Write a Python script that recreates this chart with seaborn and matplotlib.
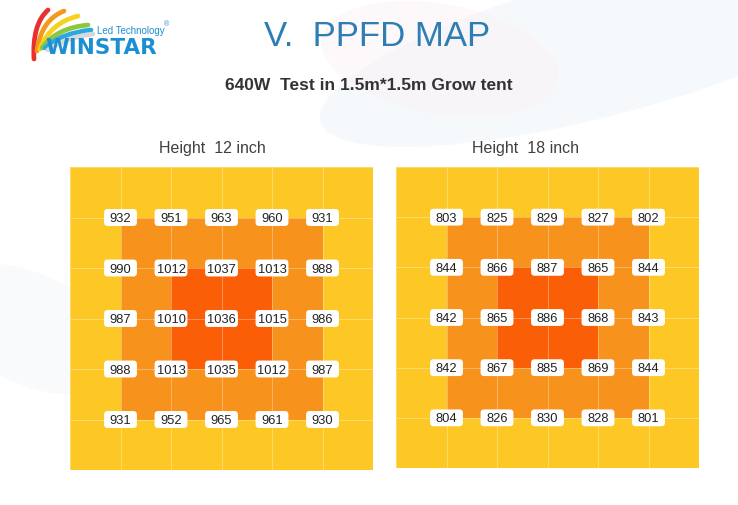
import numpy as np
import matplotlib
matplotlib.use("Agg")
import matplotlib.pyplot as plt
from matplotlib.colors import ListedColormap
from matplotlib.patches import FancyBboxPatch, Ellipse, PathPatch
from matplotlib.path import Path
import seaborn as sns

sns.set_theme(style="white")
plt.rcParams['font.family'] = ['Liberation Sans', 'DejaVu Sans']

# ---------------- data ----------------
title = "V.  PPFD MAP"
subtitle = "640W  Test in 1.5m*1.5m Grow tent"
panel_titles = ["Height  12 inch", "Height  18 inch"]

# colour zone of each 6x6 cell (0 = edge, 1 = middle ring, 2 = centre)
zones_12 = [
    [0, 0, 0, 0, 0, 0],
    [0, 1, 1, 1, 1, 0],
    [0, 1, 2, 2, 1, 0],
    [0, 1, 2, 2, 1, 0],
    [0, 1, 1, 1, 1, 0],
    [0, 0, 0, 0, 0, 0],
]
zones_18 = [
    [0, 0, 0, 0, 0, 0],
    [0, 1, 1, 1, 1, 0],
    [0, 1, 2, 2, 1, 0],
    [0, 1, 2, 2, 1, 0],
    [0, 1, 1, 1, 1, 0],
    [0, 0, 0, 0, 0, 0],
]

# PPFD readings at the 5x5 grid intersections
ppfd_12 = [
    [932, 951, 963, 960, 931],
    [990, 1012, 1037, 1013, 988],
    [987, 1010, 1036, 1015, 986],
    [988, 1013, 1035, 1012, 987],
    [931, 952, 965, 961, 930],
]
ppfd_18 = [
    [803, 825, 829, 827, 802],
    [844, 866, 887, 865, 844],
    [842, 865, 886, 868, 843],
    [842, 867, 885, 869, 844],
    [804, 826, 830, 828, 801],
]

zone_colors = ["#FDC825", "#F7931C", "#FA5E06"]

# ---------------- figure ----------------
W, H = 738, 506
fig = plt.figure(figsize=(W / 100, H / 100), dpi=100)
fig.patch.set_facecolor("white")

# faint background decoration
bg = fig.add_axes([0, 0, 1, 1])
bg.set_xlim(0, W)
bg.set_ylim(H, 0)
bg.axis("off")
bg.add_patch(Ellipse((610, 45), 600, 140, angle=-15, color="#EFF5FA", alpha=0.5, lw=0))
bg.add_patch(Ellipse((440, 60), 240, 110, angle=10, color="#FCEFF2", alpha=0.4, lw=0))
bg.add_patch(Ellipse((30, 330), 200, 110, angle=25, color="#F1F4F7", alpha=0.45, lw=0))

# logo rainbow bands
bands = [
    ("#E8312F", (34, 60), (32, 25), (48, 11)),
    ("#F39A1E", (37, 52), (41, 21), (64, 12)),
    ("#F6D21C", (40, 50), (50, 24), (78, 17)),
    ("#8DC63F", (42, 49), (56, 29), (88, 26)),
    ("#2CA8E0", (45, 49), (61, 34), (91, 31)),
    ("#D5D8DC", (48, 51), (66, 38), (93, 35)),
]
for c, p0, p1, p2 in bands:
    path = Path([p0, p1, p2], [Path.MOVETO, Path.CURVE3, Path.CURVE3])
    bg.add_patch(PathPatch(path, fc="none", ec=c, lw=3.4, capstyle="round"))
bg.text(45, 48, "WINSTAR", color="#1C8FD3", fontsize=15.5, fontweight="bold",
        va="center", ha="left", family=["DejaVu Sans"])
bg.text(97, 31, "Led Technology", color="#1C8FD3", fontsize=7, va="center", ha="left")
bg.text(164, 25, "®", color="#1C8FD3", fontsize=5, va="center", ha="left")

# titles
fig.text(377 / W, 1 - 36 / H, title, ha="center", va="center",
         fontsize=25, color="#2E7DB3")
fig.text(369 / W, 1 - 85 / H, subtitle, ha="center", va="center",
         fontsize=12.5, fontweight="bold", color="#333333")

cmap = ListedColormap(zone_colors)

panels = [
    (zones_12, ppfd_12, [70 / W, 1 - 471 / H, 303 / W, 303 / H], 212),
    (zones_18, ppfd_18, [396 / W, 1 - 469 / H, 303 / W, 301 / H], 526),
]

for (zones, ppfd, rect, tx), ptitle in zip(panels, panel_titles):
    ax = fig.add_axes(rect)
    sns.heatmap(np.array(zones), ax=ax, cmap=cmap, vmin=-0.5, vmax=2.5, cbar=False,
                linewidths=0.7, linecolor=(1, 1, 1, 0.32),
                xticklabels=False, yticklabels=False)
    ax.set_xlabel("")
    ax.set_ylabel("")
    vals = np.array(ppfd)
    bw, bh = 0.65, 0.335
    for i in range(vals.shape[0]):
        for j in range(vals.shape[1]):
            x, y = j + 1, i + 1
            ax.add_patch(FancyBboxPatch((x - bw / 2, y - bh / 2), bw, bh,
                                        boxstyle="round,pad=0,rounding_size=0.07",
                                        fc="white", ec="none", zorder=3))
            ax.text(x, y + 0.01, str(vals[i, j]), ha="center", va="center",
                    fontsize=9.3, color="#222222", zorder=4)
    fig.text(tx / W, 1 - 148 / H, ptitle, ha="center", va="center",
             fontsize=11.5, color="#404040")

fig.savefig("out.png", dpi=100, facecolor=fig.get_facecolor())
